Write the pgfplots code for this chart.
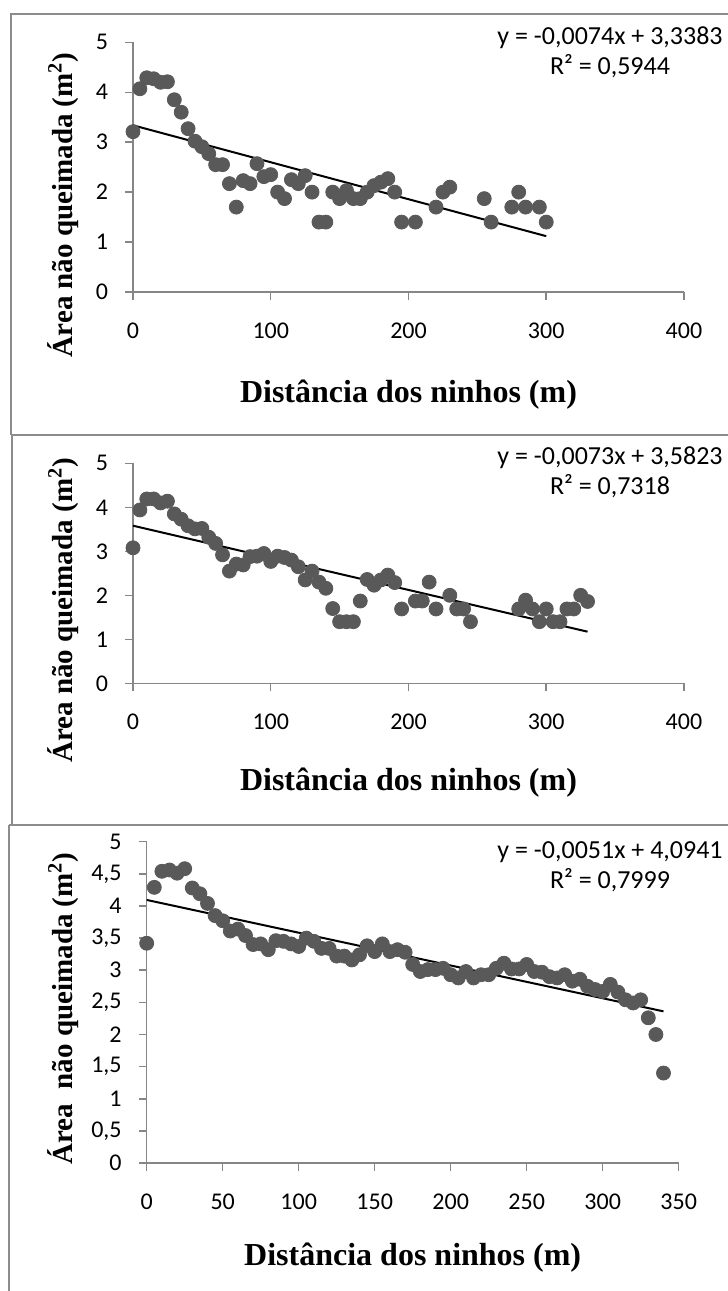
\documentclass[border=0pt]{standalone}
\usepackage{pgfplots}
\pgfplotsset{compat=1.18}
\usepackage{fontspec}
\setmainfont{Carlito}
\newfontfamily\labfont{Liberation Serif}
\definecolor{axgray}{RGB}{134,134,134}
\definecolor{ptgray}{RGB}{89,89,89}
\definecolor{framegray}{RGB}{140,140,140}

\pgfplotsset{
  panel/.style={
    scale only axis, clip=false,
    axis lines=left,
    axis line style={-, draw=axgray, line width=0.75pt},
    tick style={draw=axgray, line width=0.75pt},
    major tick length=4pt, tick align=outside,
    ymin=0, ymax=5, xmin=0,
    /pgf/number format/assume math mode=true,
    /pgf/number format/use comma,
    tick label style={font=\fontsize{12}{14}\selectfont},
    xticklabel style={yshift=-8pt},
    yticklabel style={xshift=-5pt},
    anchor=south west,
  },
  pts/.style={only marks, mark=*, mark size=3.5pt, mark options={draw=ptgray, fill=ptgray}},
  fit/.style={black, line width=1pt, no marks},
}
\newcommand\axlab{\labfont\bfseries\fontsize{16}{19}\selectfont}
\newcommand\ylab{\labfont\bfseries\fontsize{14.5}{17}\selectfont}
\newcommand\eqfont{\fontsize{13}{15}\selectfont}

\begin{document}
\begin{tikzpicture}
\path[use as bounding box] (0pt,0pt) rectangle (364pt,-645.5pt);

% frames
\draw[framegray, line width=1pt] (364pt,-7pt) -- (5.5pt,-7pt) -- (5.5pt,-217.5pt);
\draw[framegray, line width=1pt] (5.5pt,-217.5pt) -- (364pt,-217.5pt);
\draw[framegray, line width=1pt] (6pt,-217.5pt) -- (6pt,-412.5pt);
\draw[framegray, line width=1pt] (4.5pt,-412.5pt) -- (364pt,-412.5pt);
\draw[framegray, line width=1pt] (4.5pt,-412.5pt) -- (4.5pt,-645.5pt);

% panel 1
\begin{axis}[panel, at={(66.5pt,-146pt)}, width=275.5pt, height=124.85pt,
  xmax=400, xtick={0,100,...,400}, ytick={0,1,...,5}]
\addplot[pts] coordinates {
(0,3.21)(5,4.07)(10,4.29)(15,4.27)(20,4.2)(25,4.21)(30,3.85)(35,3.6)(40,3.27)
(45,3.02)(50,2.91)(55,2.77)(60,2.55)(65,2.55)(70,2.17)(75,1.7)(80,2.23)(85,2.17)
(90,2.57)(95,2.31)(100,2.35)(105,2.0)(110,1.87)(115,2.25)(120,2.17)(125,2.33)
(130,2.0)(135,1.4)(140,1.4)(145,2.0)(150,1.87)(155,2.03)(160,1.87)(165,1.87)
(170,2.0)(175,2.13)(180,2.2)(185,2.27)(190,2.0)(195,1.4)(205,1.4)(220,1.7)
(225,2.0)(230,2.1)(255,1.87)(260,1.4)(275,1.7)(280,2.0)(285,1.7)(295,1.7)(300,1.4)
};
\addplot[fit] coordinates {(0,3.3383) (300,1.1183)};
\end{axis}

% panel 2
\begin{axis}[panel, at={(66.5pt,-341.65pt)}, width=275.5pt, height=110pt,
  xmax=400, xtick={0,100,...,400}, ytick={0,1,...,5}]
\addplot[pts] coordinates {
(0,3.08)(5,3.94)(10,4.19)(15,4.19)(20,4.1)(25,4.14)(30,3.85)(35,3.73)(40,3.58)
(45,3.51)(50,3.52)(55,3.32)(60,3.18)(65,2.92)(70,2.55)(75,2.71)(80,2.69)(85,2.88)
(90,2.89)(95,2.95)(100,2.77)(105,2.89)(110,2.86)(115,2.8)(120,2.65)(125,2.35)
(130,2.55)(135,2.3)(140,2.16)(145,1.7)(150,1.4)(155,1.4)(160,1.4)(165,1.87)
(170,2.36)(175,2.23)(180,2.35)(185,2.46)(190,2.29)(195,1.69)(205,1.87)(210,1.87)
(215,2.3)(220,1.69)(230,2.0)(235,1.69)(240,1.69)(245,1.4)(280,1.69)(285,1.89)
(290,1.69)(295,1.4)(300,1.69)(305,1.4)(310,1.4)(315,1.69)(320,1.69)(325,2.0)(330,1.86)
};
\addplot[fit] coordinates {(0,3.5823) (330,1.1733)};
\end{axis}

% panel 3
\begin{axis}[panel, at={(73.35pt,-581.5pt)}, width=266pt, height=160.65pt,
  xmax=350, xtick={0,50,...,350}, ytick={0,0.5,...,5}]
\addplot[pts] coordinates {
(0,3.42)(5,4.29)(10,4.54)(15,4.56)(20,4.51)(25,4.58)(30,4.28)(35,4.19)(40,4.04)
(45,3.85)(50,3.77)(55,3.61)(60,3.64)(65,3.54)(70,3.40)(75,3.41)(80,3.32)(85,3.46)
(90,3.45)(95,3.41)(100,3.37)(105,3.50)(110,3.45)(115,3.34)(120,3.34)(125,3.22)
(130,3.22)(135,3.16)(140,3.24)(145,3.38)(150,3.29)(155,3.41)(160,3.29)(165,3.32)
(170,3.28)(175,3.09)(180,2.98)(185,3.01)(190,3.01)(195,3.03)(200,2.93)(205,2.88)
(210,2.98)(215,2.88)(220,2.93)(225,2.93)(230,3.03)(235,3.11)(240,3.02)(245,3.02)
(250,3.09)(255,2.98)(260,2.97)(265,2.90)(270,2.88)(275,2.93)(280,2.83)(285,2.86)
(290,2.75)(295,2.70)(300,2.67)(305,2.78)(310,2.66)(315,2.54)(320,2.49)(325,2.54)
(330,2.26)(335,2.0)(340,1.4)
};
\addplot[fit] coordinates {(0,4.0941) (340,2.3601)};
\end{axis}

% regression equations
\node[anchor=north east, align=center, inner sep=0pt, font=\eqfont] at (361.5pt,-13pt)
  {y = -0,0074x + 3,3383\\R² = 0,5944};
\node[anchor=north east, align=center, inner sep=0pt, font=\eqfont] at (361.5pt,-223pt)
  {y = -0,0073x + 3,5823\\R² = 0,7318};
\node[anchor=north east, align=center, inner sep=0pt, font=\eqfont] at (361.5pt,-420.5pt)
  {y = -0,0051x + 4,0941\\R² = 0,7999};

% axis titles
\node[font=\axlab] at (204.25pt,-197.5pt) {Distância dos ninhos (m)};
\node[font=\axlab] at (204.25pt,-391.5pt) {Distância dos ninhos (m)};
\node[font=\axlab] at (206.35pt,-629pt) {Distância dos ninhos (m)};
\node[rotate=90, anchor=base east, inner sep=0pt, font=\ylab] at (36pt,-26pt)
  {Área não queimada (m\textsuperscript{2})};
\node[rotate=90, anchor=base west, inner sep=0pt, font=\ylab] at (36pt,-381.5pt)
  {Área não queimada (m\textsuperscript{2})};
\node[rotate=90, anchor=base east, inner sep=0pt, font=\ylab] at (36pt,-426pt)
  {Área\ \ não queimada (m\textsuperscript{2})};
\end{tikzpicture}
\end{document}
